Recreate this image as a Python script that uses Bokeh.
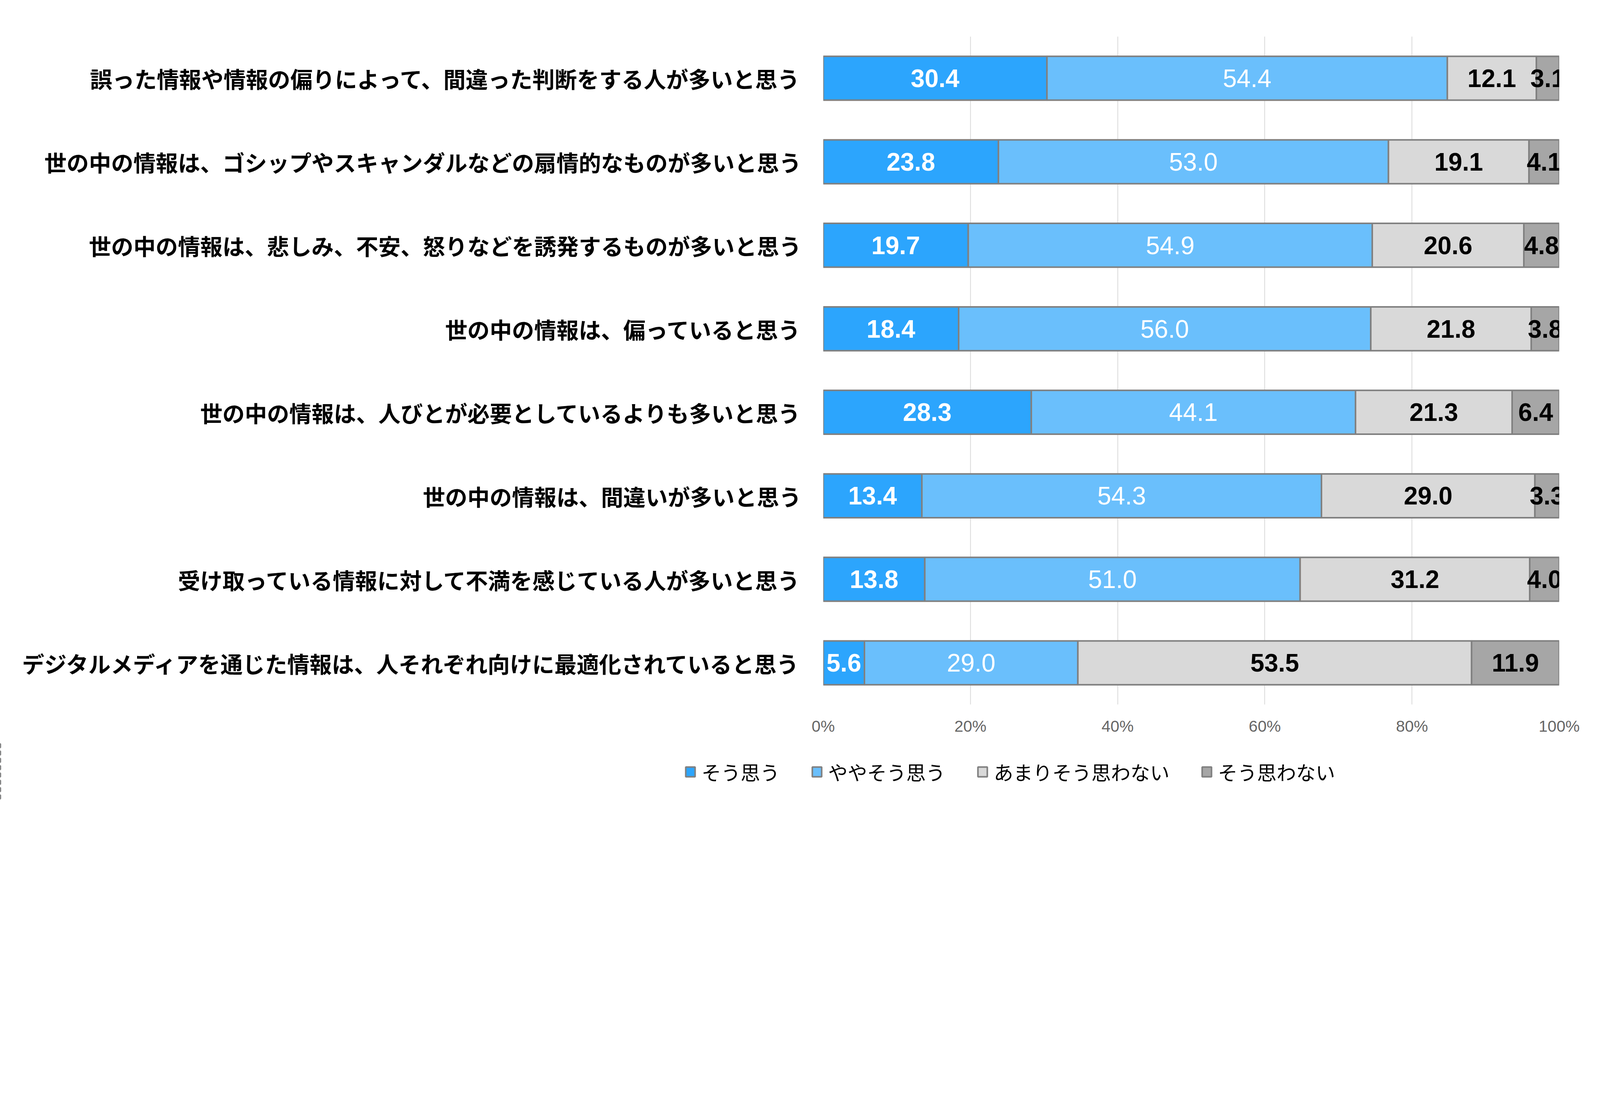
from bokeh.plotting import figure
from bokeh.models import (FactorRange, Range1d, Legend, LegendItem, FixedTicker,
                          ColumnDataSource)
from bokeh.layouts import column
from bokeh.core.properties import value
from bokeh.embed import file_html
from bokeh.resources import INLINE

categories = [
    "誤った情報や情報の偏りによって、間違った判断をする人が多いと思う",
    "世の中の情報は、ゴシップやスキャンダルなどの扇情的なものが多いと思う",
    "世の中の情報は、悲しみ、不安、怒りなどを誘発するものが多いと思う",
    "世の中の情報は、偏っていると思う",
    "世の中の情報は、人びとが必要としているよりも多いと思う",
    "世の中の情報は、間違いが多いと思う",
    "受け取っている情報に対して不満を感じている人が多いと思う",
    "デジタルメディアを通じた情報は、人それぞれ向けに最適化されていると思う",
]
series_names = ["そう思う", "ややそう思う", "あまりそう思わない", "そう思わない"]
s_agree = [30.4, 23.8, 19.7, 18.4, 28.3, 13.4, 13.8, 5.6]
s_somewhat = [54.4, 53.0, 54.9, 56.0, 44.1, 54.3, 51.0, 29.0]
s_not_much = [12.1, 19.1, 20.6, 21.8, 21.3, 29.0, 31.2, 53.5]
s_disagree = [3.1, 4.1, 4.8, 3.8, 6.4, 3.3, 4.0, 11.9]
x_ticks = [0, 20, 40, 60, 80, 100]
tick_labels = ["0%", "20%", "40%", "60%", "80%", "100%"]

series = [s_agree, s_somewhat, s_not_much, s_disagree]
colors = ["#2ca5fd", "#6abffc", "#d9d9d9", "#a6a6a6"]
label_colors = ["white", "white", "black", "black"]
label_styles = ["bold", "normal", "bold", "bold"]
outline = "#808080"

p = figure(width=4070, height=1900,
           y_range=FactorRange(factors=list(reversed(categories))),
           x_range=Range1d(0, 100),
           output_backend="svg", toolbar_location=None,
           min_border_left=2107, min_border_right=79,
           min_border_top=93, min_border_bottom=96)
p.outline_line_color = None
p.background_fill_color = "white"
p.border_fill_color = "white"

p.ygrid.grid_line_color = None
p.xgrid.ticker = FixedTicker(ticks=x_ticks)
p.xgrid.grid_line_color = "#d9d9d9"
p.xgrid.grid_line_width = 2

p.xaxis.ticker = FixedTicker(ticks=x_ticks)
p.xaxis.major_label_overrides = {t: l for t, l in zip(x_ticks, tick_labels)}
p.xaxis.axis_line_color = None
p.xaxis.major_tick_line_color = None
p.xaxis.minor_tick_line_color = None
p.xaxis.major_label_text_font = "Liberation Sans"
p.xaxis.major_label_text_font_size = "41px"
p.xaxis.major_label_text_color = "#666666"
p.xaxis.major_label_standoff = 26

p.yaxis.axis_line_color = None
p.yaxis.major_tick_line_color = None
p.yaxis.minor_tick_line_color = None
p.yaxis.major_label_text_font = "Noto Sans CJK JP"
p.yaxis.major_label_text_font_style = "bold"
p.yaxis.major_label_text_font_size = "57px"
p.yaxis.major_label_text_color = "black"
p.yaxis.major_label_standoff = 50

totals = [sum(vals) for vals in zip(*series)]
lefts = [0.0] * len(categories)
segments = []
for i, vals in enumerate(series):
    widths = [v / t * 100 for v, t in zip(vals, totals)]
    rights = [l + w for l, w in zip(lefts, widths)]
    segments.append((list(lefts), list(rights)))
    p.hbar(y=categories, left=lefts, right=rights, height=0.525,
           fill_color=colors[i], line_color=outline, line_width=4)
    centers = [(l + rr) / 2 for l, rr in zip(lefts, rights)]
    p.text(x=centers, y=categories, text=[f"{v:.1f}" for v in vals],
           text_align="center", text_baseline="middle",
           text_font=value("Liberation Sans"), text_font_style=label_styles[i],
           text_font_size="64px", text_color=label_colors[i])
    lefts = rights

# legend strip below the chart; its proxy bars lie outside this strip's x range
lg = figure(width=4070, height=150,
            x_range=Range1d(200, 300), y_range=FactorRange(factors=list(reversed(categories))),
            output_backend="svg", toolbar_location=None, min_border=0)
lg.axis.visible = False
lg.grid.visible = False
lg.outline_line_color = None
lg.border_fill_color = "white"
legend_x = 1752
if "frame_align" in lg.properties():
    lg.frame_align = False
    p.frame_align = False
else:
    legend_x = 1752 - 2107
legend_renderers = []
for c, (l, r) in zip(colors, segments):
    src = ColumnDataSource(dict(y=categories, left=l, right=r))
    rr = lg.hbar(y="y", left="left", right="right", height=0.5, source=src,
                 fill_color=c, line_color=outline, line_width=4)
    legend_renderers.append(rr)
legend = Legend(items=[LegendItem(label=n, renderers=[r]) for n, r in zip(series_names, legend_renderers)],
                orientation="horizontal", location=(legend_x, 38),
                label_text_font="Noto Sans CJK JP", label_text_font_size="50px",
                label_text_color="black",
                glyph_width=30, glyph_height=31, label_standoff=14, spacing=80,
                padding=0, margin=0, border_line_color=None, background_fill_alpha=0)
lg.add_layout(legend, "center")

layout = column(p, lg, spacing=0)
open("out.html", "w").write(file_html(layout, INLINE))
